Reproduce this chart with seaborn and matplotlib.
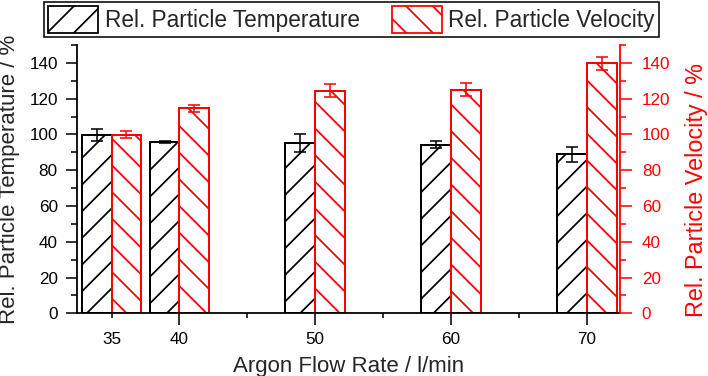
import pandas as pd
import matplotlib
matplotlib.use('Agg')
import matplotlib.pyplot as plt
from matplotlib.patches import Patch
from matplotlib.ticker import MultipleLocator
import seaborn as sns

# Data
flow = [35, 40, 50, 60, 70]
temp = [99.8, 96.0, 95.3, 94.3, 88.9]
temp_err = [3.2, 0.6, 5.1, 1.9, 4.1]
vel = [99.8, 114.6, 124.4, 125.1, 139.7]
vel_err = [2.0, 1.9, 3.7, 3.4, 3.7]

series = ['Rel. Particle Temperature', 'Rel. Particle Velocity']
colors = ['black', 'red']
hatches = ['//', '\\\\']

df = pd.DataFrame({
    'flow': flow + flow,
    'value': temp + vel,
    'series': [series[0]] * len(flow) + [series[1]] * len(flow),
})

sns.set_style('ticks')
plt.rcParams['font.family'] = ['Liberation Sans', 'DejaVu Sans']
plt.rcParams['hatch.linewidth'] = 0.8

# dpi 160 so the hatch spacing matches the reference
fig = plt.figure(figsize=(708 / 160, 376 / 160), dpi=160)
ax = fig.add_axes([0.1083, 0.1668, 0.7681, 0.7135])

sns.barplot(data=df, x='flow', y='value', hue='series', hue_order=series,
            palette=colors, native_scale=True, width=0.88, dodge=True,
            fill=False, errorbar=None, legend=False, ax=ax)

errs = [temp_err, vel_err]
for cont, col, h, vals, err in zip(ax.containers, colors, hatches, [temp, vel], errs):
    centers = []
    for p in cont.patches:
        p.set_hatch(h)
        p.set_edgecolor(col)
        p.set_facecolor('none')
        p.set_linewidth(0.9)
        centers.append(p.get_x() + p.get_width() / 2)
    ax.errorbar(centers, vals, yerr=err, fmt='none', ecolor=col,
                elinewidth=0.7, capsize=2.6, capthick=0.7, zorder=5)

ax.set_xlim(32.43, 72.49)
ax.set_ylim(0, 150)
ax.set_xticks([40, 50, 60, 70])
ax.set_xticks([35, 45, 55, 65], labels=['35', '', '', ''], minor=True)
ax.yaxis.set_major_locator(MultipleLocator(20))
ax.yaxis.set_minor_locator(MultipleLocator(10))

for s in ['top', 'right']:
    ax.spines[s].set_visible(False)
for s in ['left', 'bottom']:
    ax.spines[s].set_linewidth(0.8)
    ax.spines[s].set_color('black')

ax.tick_params(axis='both', which='both', direction='out', width=0.7,
               colors='black', labelsize=7.7)
ax.tick_params(axis='x', which='major', length=5.3, pad=3.3)
ax.tick_params(axis='x', which='minor', length=2.25, pad=6.35)
ax.tick_params(axis='y', which='major', length=5.0, pad=3.5)
ax.tick_params(axis='y', which='minor', length=2.7)

ax.set_xlabel('Argon Flow Rate / l/min', fontsize=10, labelpad=4)
ax.set_ylabel('Rel. Particle Temperature / %', fontsize=10, labelpad=4)

# Right axis for velocity (same scale)
ax2 = ax.twinx()
ax2.set_ylim(0, 150)
ax2.yaxis.set_major_locator(MultipleLocator(20))
ax2.yaxis.set_minor_locator(MultipleLocator(10))
for s in ['top', 'left', 'bottom']:
    ax2.spines[s].set_visible(False)
ax2.spines['right'].set_color('red')
ax2.spines['right'].set_linewidth(0.8)
ax2.tick_params(axis='y', which='both', direction='out', width=0.7,
                colors='red', labelsize=7.7)
ax2.tick_params(axis='y', which='major', length=5.3, pad=4.3)
ax2.tick_params(axis='y', which='minor', length=2.7)
ax2.set_ylabel('Rel. Particle Velocity / %', fontsize=10.5, color='red')
ax2.yaxis.set_label_coords(1.118, 0.46)

handles = [Patch(facecolor='white', edgecolor=c, hatch=h, linewidth=0.8)
           for c, h in zip(colors, hatches)]
leg = fig.legend(handles, series, loc='upper center', ncol=2,
                 bbox_to_anchor=(0.4965, 0.995), fontsize=10.2,
                 handlelength=2.2, handleheight=1.42, handletextpad=0.3,
                 columnspacing=1.4, borderpad=0.2, borderaxespad=0,
                 fancybox=False, framealpha=1, edgecolor='black')
leg.get_frame().set_linewidth(0.7)

fig.savefig('out.png', dpi=160)
